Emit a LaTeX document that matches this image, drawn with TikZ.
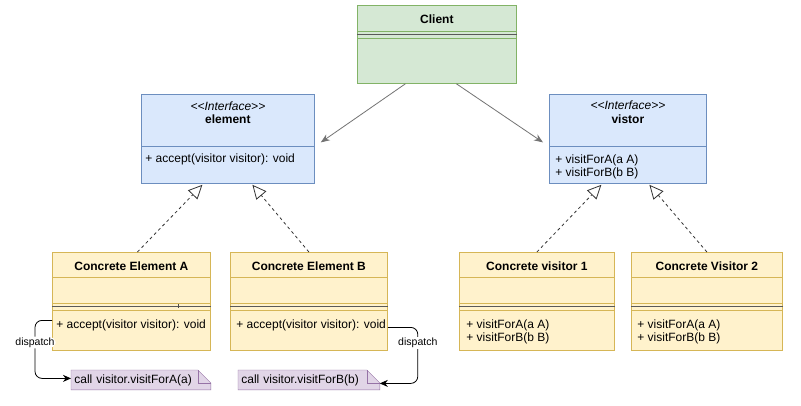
\documentclass[tikz,border=0pt]{standalone}
\usepackage{fontspec}
\setmainfont{Liberation Sans}
\usetikzlibrary{arrows.meta,backgrounds}

\definecolor{greenfill}{HTML}{D5E8D4}
\definecolor{greenline}{HTML}{82B366}
\definecolor{bluefill}{HTML}{DAE8FC}
\definecolor{blueline}{HTML}{6C8EBF}
\definecolor{yellowfill}{HTML}{FFF2CC}
\definecolor{yellowline}{HTML}{D6B656}
\definecolor{purplefill}{HTML}{E1D5E7}
\definecolor{purpleline}{HTML}{9673A6}

\tikzset{
  umlclass/.style={anchor=north west, inner sep=0pt, minimum height=98pt},
  concrete/.style={umlclass, draw=yellowline, fill=yellowfill},
  interface/.style={umlclass, draw=blueline, fill=bluefill, minimum height=89pt},
  client class/.style={umlclass, draw=greenline, fill=greenfill, minimum height=78pt},
  class name/.style={font=\bfseries\fontsize{12}{14}\selectfont},
  stereotype/.style={font=\itshape\fontsize{12}{14}\selectfont},
  members/.style={anchor=west, inner sep=0pt, align=left, font=\fontsize{12}{13}\selectfont},
  separator/.style={draw=black!65, line width=1.6pt},
  notebox/.style={anchor=north west, inner xsep=3pt, inner ysep=0pt, minimum height=19pt, align=left, font=\fontsize{12}{14}\selectfont},
  uses/.style={draw=black!55, -{Stealth[length=9pt,width=7pt]}},
  realizes/.style={draw=black!80, dash pattern=on 3pt off 3pt, -{Triangle[open,length=14pt,width=13pt]}},
  dispatch/.style={draw=black, rounded corners=7pt, -{Stealth[length=8pt,width=7pt]}},
  dispatch label/.style={fill=white, inner sep=1pt, font=\fontsize{10.5}{12}\selectfont},
}

\begin{document}
\begin{tikzpicture}[x=1pt, y=-1pt, line width=0.8pt]
  \useasboundingbox (0,0) rectangle (801,406);

  % classes
  \node [client class, minimum width=159pt] (client) at (357,5) {};
  \node [interface, minimum width=173pt] (element) at (141,94) {};
  \node [interface, minimum width=157pt] (vistor) at (549,94) {};
  \node [concrete, minimum width=158pt] (ceA) at (52,252) {};
  \node [concrete, minimum width=157pt] (ceB) at (230,252) {};
  \node [concrete, minimum width=155pt] (cv1) at (459,252) {};
  \node [concrete, minimum width=151pt] (cv2) at (631,252) {};

  % compartments
  \draw [greenline] ([yshift=-26pt]client.north west) -- ([yshift=-26pt]client.north east);
  \draw [separator] ([yshift=-29.5pt]client.north west) -- ([yshift=-29.5pt]client.north east);
  \draw [greenline] ([yshift=-33pt]client.north west) -- ([yshift=-33pt]client.north east);
  \foreach \cls in {element,vistor}{
    \draw [blueline] ([yshift=-52pt]\cls.north west) -- ([yshift=-52pt]\cls.north east);
  }
  \foreach \cls in {ceA,ceB,cv1,cv2}{
    \draw [yellowline] ([yshift=-25pt]\cls.north west) -- ([yshift=-25pt]\cls.north east);
    \draw [yellowline] ([yshift=-51pt]\cls.north west) -- ([yshift=-51pt]\cls.north east);
    \draw [separator] ([yshift=-54.5pt]\cls.north west) -- ([yshift=-54.5pt]\cls.north east);
    \draw [yellowline] ([yshift=-58pt]\cls.north west) -- ([yshift=-58pt]\cls.north east);
  }
  \draw [black!70, line width=1pt] ([xshift=47pt,yshift=-52.5pt]ceA.north) -- ([xshift=47pt,yshift=-56pt]ceA.north);

  % names and members
  \node [class name] (client name) at ([yshift=-14pt]client.north) {Client};
  \node [stereotype] (element stereo) at ([yshift=-12pt]element.north) {<\kern0pt<Interface>\kern0pt>};
  \node [class name] (element name) at ([yshift=-25pt]element.north) {element};
  \node [members] (element ops) at ([xshift=4pt,yshift=-65pt]element.north west) {+ accept(visitor visitor): void};
  \node [stereotype] (vistor stereo) at ([yshift=-11pt]vistor.north) {<\kern0pt<Interface>\kern0pt>};
  \node [class name] (vistor name) at ([yshift=-25pt]vistor.north) {vistor};
  \node [members] (vistor ops) at ([xshift=6pt,yshift=-72.5pt]vistor.north west) {+ visitForA(a A)\\+ visitForB(b B)};
  \node [class name] (ceA name) at ([yshift=-14pt]ceA.north) {Concrete Element A};
  \node [members] (ceA ops) at ([xshift=4pt,yshift=-73pt]ceA.north west) {+ accept(visitor visitor): void};
  \node [class name] (ceB name) at ([yshift=-14pt]ceB.north) {Concrete Element B};
  \node [members] (ceB ops) at ([xshift=6pt,yshift=-73pt]ceB.north west) {+ accept(visitor visitor): void};
  \node [class name] (cv1 name) at ([yshift=-14pt]cv1.north) {Concrete visitor 1};
  \node [members] (cv1 ops) at ([xshift=7pt,yshift=-80pt]cv1.north west) {+ visitForA(a A)\\+ visitForB(b B)};
  \node [class name] (cv2 name) at ([yshift=-14pt]cv2.north) {Concrete Visitor 2};
  \node [members] (cv2 ops) at ([xshift=6pt,yshift=-80pt]cv2.north west) {+ visitForA(a A)\\+ visitForB(b B)};

  % notes
  \node [notebox, text width=133pt] (noteA) at (71,370) {call visitor.visitForA(a)};
  \node [notebox, text width=135pt] (noteB) at (238,370) {call visitor.visitForB(b)};
  \begin{scope}[on background layer]
    \fill [white] (0,0) rectangle (801,406);
    \foreach \nt in {noteA,noteB}{
      \draw [draw=purpleline, fill=purplefill]
        (\nt.north west)
        -- ([xshift=-13pt]\nt.north east)
        -- ([yshift=-13pt]\nt.north east)
        -- (\nt.south east)
        -- (\nt.south west)
        -- cycle;
      \draw [purpleline] ([xshift=-13pt]\nt.north east) |- ([yshift=-13pt]\nt.north east);
    }
  \end{scope}

  % connectors
  \draw [uses] ([xshift=-31.5pt]client.south) -- ([xshift=6pt,yshift=-3.5pt]element.east);
  \draw [uses] ([xshift=19.5pt]client.south) -- ([xshift=-6pt,yshift=-3.5pt]vistor.west);
  \draw [realizes] ([xshift=6pt]ceA.north) -- ([xshift=-25.5pt,yshift=-1pt]element.south);
  \draw [realizes] (ceB.north) -- ([xshift=24.5pt,yshift=-1pt]element.south);
  \draw [realizes] (cv1.north) -- ([xshift=-26.5pt,yshift=-1pt]vistor.south);
  \draw [realizes] (cv2.north) -- ([xshift=21.5pt,yshift=-1pt]vistor.south);
  \draw [dispatch] ([yshift=-19pt]ceA.west) -- ++(-17,0) |- ([yshift=1.5pt]noteA.west)
    node [dispatch label, pos=0.19] (dispatch A) {dispatch};
  \draw [dispatch] ([yshift=-26pt]ceB.east) -- ++(30,0) |- ([yshift=-3.5pt]noteB.east)
    node [dispatch label, pos=0.14] (dispatch B) {dispatch};
\end{tikzpicture}
\end{document}
